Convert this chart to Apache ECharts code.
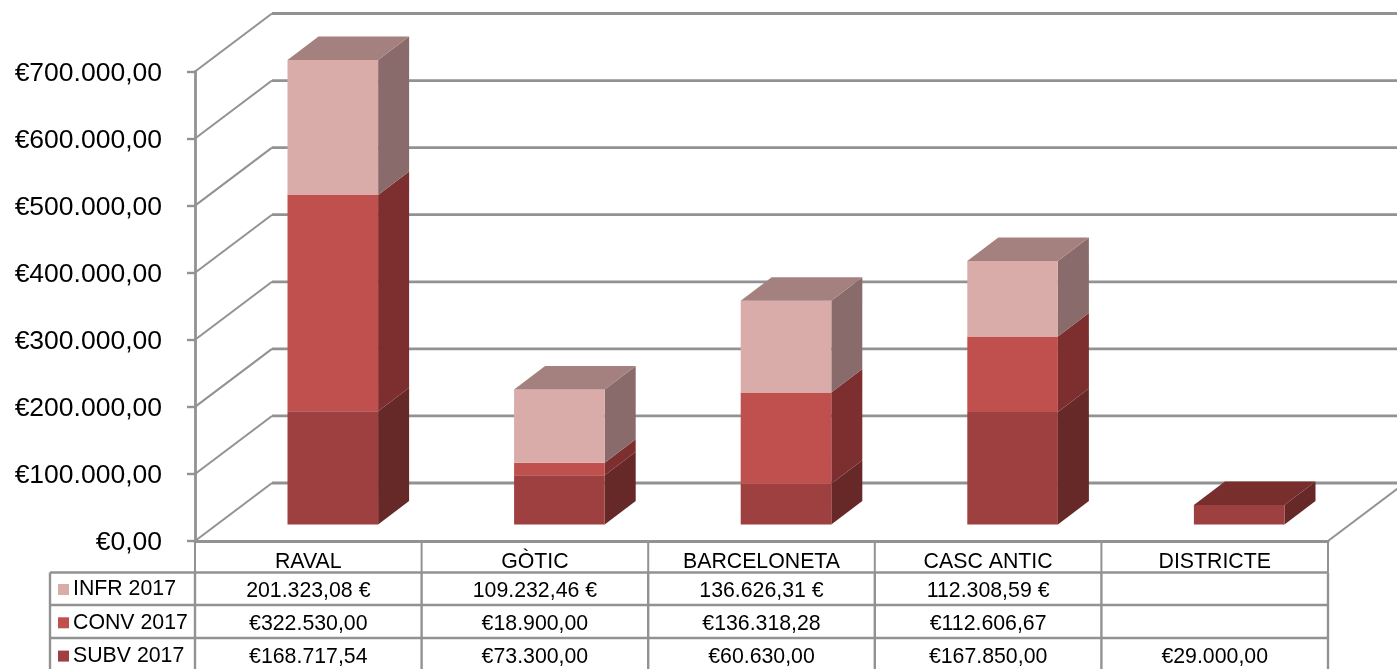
<!DOCTYPE html>
<html>
<head>
<meta charset="utf-8" />
<title>Raval, Gòtic, Barceloneta, Casc Antic</title>
<style>
	*{margin:0;padding:0;}
	body{background:#fff;overflow:hidden;}
	#chart{width:1397px;height:669px;}
</style>
<script src="https://cdn.jsdelivr.net/npm/echarts@6/dist/echarts.min.js"></script>
</head>
<body>
<div id="chart"></div>
<script>
// data
var categories = ["RAVAL", "GÒTIC", "BARCELONETA", "CASC ANTIC", "DISTRICTE"];
var subv = [168717.54, 73300, 60630, 167850, 29000];
var conv = [322530, 18900, 136318.28, 112606.67, null];
var infr = [201323.08, 109232.46, 136626.31, 112308.59, null];
var subvLabels = ["€168.717,54", "€73.300,00", "€60.630,00", "€167.850,00", "€29.000,00"];
var convLabels = ["€322.530,00", "€18.900,00", "€136.318,28", "€112.606,67", ""];
var infrLabels = ["201.323,08 €", "109.232,46 €", "136.626,31 €", "112.308,59 €", ""];
var yTicks = [0, 100000, 200000, 300000, 400000, 500000, 600000, 700000];
var yTickLabels = ["€0,00", "€100.000,00", "€200.000,00", "€300.000,00", "€400.000,00", "€500.000,00", "€600.000,00", "€700.000,00"];

var FONT = '"Liberation Sans", Arial, sans-serif';
var LINE = '#929292';
// fake 3d: how far the back wall and the bars are pushed
var WALL_DX = 77, WALL_DY = 58;
var BAR_DX = 31, BAR_DY = 23.5;
var BAR_SHIFT_X = 24.5, BAR_SHIFT_Y = 16.5;
var BAR_RATIO = 90.6 / 226.6;

var GRID = {left: 195, top: 71.5, width: 1133, height: 469.5};
var ROWS_Y = [572.5, 605, 638];

function wallItem(params, api){
	var y = api.coord([0, api.value(0)])[1];
	var left = params.coordSys.x;
	var right = left + params.coordSys.width + WALL_DX;
	return {
		type: 'group',
		children: [
			{type: 'line', shape: {x1: left, y1: y, x2: left + WALL_DX, y2: y - WALL_DY},
				style: {stroke: LINE, lineWidth: 2}},
			{type: 'line', shape: {x1: left + WALL_DX, y1: y - WALL_DY, x2: right, y2: y - WALL_DY},
				style: {stroke: LINE, lineWidth: 2.8}}
		]
	};
}

function floorItem(params, api){
	var right = params.coordSys.x + params.coordSys.width;
	var y = api.coord([0, 0])[1];
	return {type: 'line', shape: {x1: right, y1: y, x2: right + WALL_DX, y2: y - WALL_DY},
		style: {stroke: LINE, lineWidth: 2}};
}

// one segment of the stack: front, side and top faces
function barRender(colors){
	return function(params, api){
		var from = api.coord([api.value(0), api.value(1)]);
		var to = api.coord([api.value(0), api.value(2)]);
		var w = api.size([1, 0])[0] * BAR_RATIO;
		var x0 = from[0] - w / 2 + BAR_SHIFT_X;
		var x1 = x0 + w;
		var yb = from[1] - BAR_SHIFT_Y;
		var yt = to[1] - BAR_SHIFT_Y;
		var kids = [
			{type: 'polygon', shape: {points: [[x1, yb], [x1 + BAR_DX, yb - BAR_DY], [x1 + BAR_DX, yt - BAR_DY], [x1, yt]]},
				style: {fill: colors.side}},
			{type: 'rect', shape: {x: x0, y: yt, width: w, height: yb - yt}, style: {fill: colors.front}}
		];
		if(api.value(3)){
			kids.push({type: 'polygon', shape: {points: [[x0, yt], [x0 + BAR_DX, yt - BAR_DY], [x1 + BAR_DX, yt - BAR_DY], [x1, yt]]},
				style: {fill: colors.top}});
		}
		return {type: 'group', children: kids};
	};
}

// [category, start, end, isTopOfStack], empty values are left out
function stackData(values, below, above){
	var out = [];
	for(var i = 0; i < values.length; i++){
		if(values[i] == null) continue;
		var start = 0;
		below.forEach(function(b){ start += b[i] || 0; });
		var hasAbove = above.some(function(a){ return a[i] != null; });
		out.push([i, start, start + values[i], hasAbove ? 0 : 1]);
	}
	return out;
}

function tableGraphics(){
	var g = [];
	var colW = GRID.width / categories.length;
	var bottom = 675;
	function line(x1, y1, x2, y2, width){
		g.push({type: 'line', silent: true, shape: {x1: x1, y1: y1, x2: x2, y2: y2},
			style: {stroke: LINE, lineWidth: width}});
	}
	ROWS_Y.forEach(function(y){ line(50, y, GRID.left + GRID.width, y, 2.4); });
	line(50, ROWS_Y[0], 50, bottom, 2.4);
	for(var c = 0; c <= categories.length; c++){
		var x = GRID.left + c * colW;
		line(x, GRID.top + GRID.height, x, ROWS_Y[0], 2);
		line(x, ROWS_Y[0], x, bottom, 2.4);
	}
	[infrLabels, convLabels, subvLabels].forEach(function(labels, r){
		labels.forEach(function(t, c){
			if(!t) return;
			g.push({type: 'text', silent: true, x: GRID.left + (c + 0.5) * colW, y: ROWS_Y[r] + 19,
				style: {text: t, font: '21.3px ' + FONT, fill: '#000', align: 'center', verticalAlign: 'middle'}});
		});
	});
	return g;
}

var oChart = echarts.init(document.getElementById('chart'), null, {renderer: 'canvas'});
oChart.setOption({
	animation: false,
	backgroundColor: '#fff',
	grid: GRID,
	legend: {
		orient: 'vertical',
		left: 58,
		top: 579,
		itemWidth: 11,
		itemHeight: 11,
		itemGap: 12.3,
		icon: 'rect',
		selectedMode: false,
		padding: 0,
		data: ['INFR 2017', 'CONV 2017', 'SUBV 2017'],
		textStyle: {fontFamily: FONT, fontSize: 21.3, color: '#000', padding: [0, 0, 0, -1]}
	},
	xAxis: {
		type: 'category',
		data: categories,
		axisLine: {show: true, lineStyle: {color: LINE, width: 2.8}},
		axisTick: {show: false},
		axisLabel: {color: '#000', fontFamily: FONT, fontSize: 21.3, margin: 11}
	},
	yAxis: {
		type: 'value',
		min: 0,
		max: 700000,
		interval: 100000,
		splitLine: {show: false},
		axisLine: {show: true, lineStyle: {color: LINE, width: 2.8}},
		axisTick: {show: true, length: 8, lineStyle: {color: LINE, width: 2.4}},
		axisLabel: {
			color: '#000', fontFamily: FONT, fontSize: 26.5, margin: 33, lineHeight: 4, verticalAlign: 'top',
			formatter: function(v){ return yTickLabels[yTicks.indexOf(v)]; }
		}
	},
	graphic: tableGraphics(),
	series: [
		{name: 'walls', type: 'custom', z: 1, silent: true, renderItem: wallItem,
			encode: {y: 0}, data: yTicks.map(function(v){ return [v]; })},
		{name: 'floor', type: 'custom', z: 1, silent: true, renderItem: floorItem,
			encode: {y: 0}, data: [[0]]},
		{name: 'SUBV 2017', type: 'custom', z: 2, itemStyle: {color: '#9D403F'},
			renderItem: barRender({front: '#9D403F', side: '#672828', top: '#772E2D'}),
			encode: {x: 0, y: [1, 2]}, data: stackData(subv, [], [conv, infr])},
		{name: 'CONV 2017', type: 'custom', z: 3, itemStyle: {color: '#C0504D'},
			renderItem: barRender({front: '#C0504D', side: '#7C2F2E', top: '#8F3B39'}),
			encode: {x: 0, y: [1, 2]}, data: stackData(conv, [subv], [infr])},
		{name: 'INFR 2017', type: 'custom', z: 4, itemStyle: {color: '#D9ABA9'},
			renderItem: barRender({front: '#D9ABA9', side: '#8A6B6B', top: '#A4807E'}),
			encode: {x: 0, y: [1, 2]}, data: stackData(infr, [subv, conv], [])}
	]
});
</script>
</body>
</html>
